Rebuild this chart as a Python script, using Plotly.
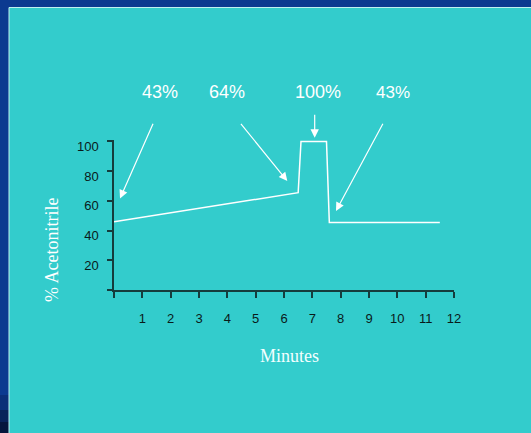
import plotly.graph_objects as go

# Gradient profile (minutes, % acetonitrile)
minutes = [0.0, 6.5, 6.6, 7.5, 7.6, 11.5]
acetonitrile = [46, 65.5, 100, 100, 45.5, 45.5]

x_ticks = list(range(0, 13))
x_ticktext = [""] + [str(i) for i in range(1, 13)]
y_ticks = [0, 20, 40, 60, 80, 100]
y_ticktext = ["", "20", "40", "60", "80", "100"]

step_labels = ["43%", "64%", "100%", "43%"]

BLUE = "#0b3a90"
TEAL = "#33cccc"
AXIS = "#153c3c"

fig = go.Figure()
fig.add_trace(go.Scatter(x=minutes, y=acetonitrile, mode="lines",
                         line=dict(color="white", width=1.5),
                         hoverinfo="skip", showlegend=False))

W, H = 531, 433
L, R, T, B = 114, 77, 140, 143
pw, ph = W - L - R, H - T - B

def px_x(p):
    return (p - L) / pw

def px_y(p):
    return (H - B - p) / ph

shapes = [
    # dark blue strip shading at bottom-left
    dict(type="rect", xref="paper", yref="paper", x0=px_x(-5), x1=px_x(9), y0=px_y(395), y1=px_y(410),
         fillcolor="#0a2f78", line_width=0, layer="below"),
    dict(type="rect", xref="paper", yref="paper", x0=px_x(-5), x1=px_x(9), y0=px_y(410), y1=px_y(422),
         fillcolor="#08235a", line_width=0, layer="below"),
    dict(type="rect", xref="paper", yref="paper", x0=px_x(-5), x1=px_x(9), y0=px_y(422), y1=px_y(440),
         fillcolor="#05163c", line_width=0, layer="below"),
    # turquoise panel
    dict(type="rect", xref="paper", yref="paper", x0=px_x(9), x1=px_x(540), y0=px_y(7.5), y1=px_y(440),
         fillcolor=TEAL, line=dict(color="#bff0f0", width=1), layer="below"),
]

label_pos = [(160, 92, 18), (227, 92, 18), (317.5, 92, 18), (393, 92, 17)]
annotations = []
for txt, (cx, cy, fs) in zip(step_labels, label_pos):
    annotations.append(dict(text=txt, xref="paper", yref="paper", x=px_x(cx), y=px_y(cy),
                            showarrow=False, xanchor="center", yanchor="middle",
                            font=dict(family="Liberation Sans, Arial", size=fs, color="white")))

# arrows: head (pixel), tail (pixel)
arrows = [((120, 198.5), (153.7, 122.3)),
          ((287.3, 181), (239.7, 122.3)),
          ((314.7, 137.7), (314.7, 113.3)),
          ((336, 211), (383.7, 122.3))]
for (hx, hy), (tx, ty) in arrows:
    annotations.append(dict(text="", xref="paper", yref="paper", x=px_x(hx), y=px_y(hy),
                            ax=tx - hx, ay=ty - hy, axref="pixel", ayref="pixel",
                            showarrow=True, arrowhead=2, arrowsize=1.4, arrowwidth=1.2,
                            arrowcolor="white", standoff=0))

annotations.append(dict(text="% Acetonitrile", xref="paper", yref="paper",
                        x=px_x(52), y=px_y(250), showarrow=False, textangle=-90,
                        xanchor="center", yanchor="middle",
                        font=dict(family="Liberation Serif, Times New Roman", size=18, color="white")))
annotations.append(dict(text="Minutes", xref="paper", yref="paper",
                        x=px_x(289), y=px_y(356), showarrow=False,
                        xanchor="center", yanchor="middle",
                        font=dict(family="Liberation Serif, Times New Roman", size=18, color="#f4ffff")))

fig.update_layout(
    width=W, height=H,
    margin=dict(l=L, r=R, t=T, b=B, pad=0),
    paper_bgcolor=BLUE, plot_bgcolor=TEAL,
    shapes=shapes, annotations=annotations,
    xaxis=dict(range=[0, 12], tickvals=x_ticks, ticktext=x_ticktext,
               showgrid=False, zeroline=False, showline=True, linecolor=AXIS, linewidth=1.5,
               ticks="outside", ticklen=6, tickwidth=1.5, tickcolor=AXIS,
               ticklabelstandoff=10,
               tickfont=dict(family="Liberation Sans, Arial", size=13, color="#0a1a1a")),
    yaxis=dict(range=[0, 101], tickvals=y_ticks, ticktext=y_ticktext,
               showgrid=False, zeroline=False, showline=True, linecolor=AXIS, linewidth=1.5,
               ticks="outside", ticklen=5, tickwidth=1.5, tickcolor=AXIS,
               ticklabelstandoff=6, ticklabelshift=5,
               tickfont=dict(family="Liberation Sans, Arial", size=13, color="#0a1a1a")),
    font=dict(family="Liberation Sans, Arial"),
)

fig.write_html("out.html")
